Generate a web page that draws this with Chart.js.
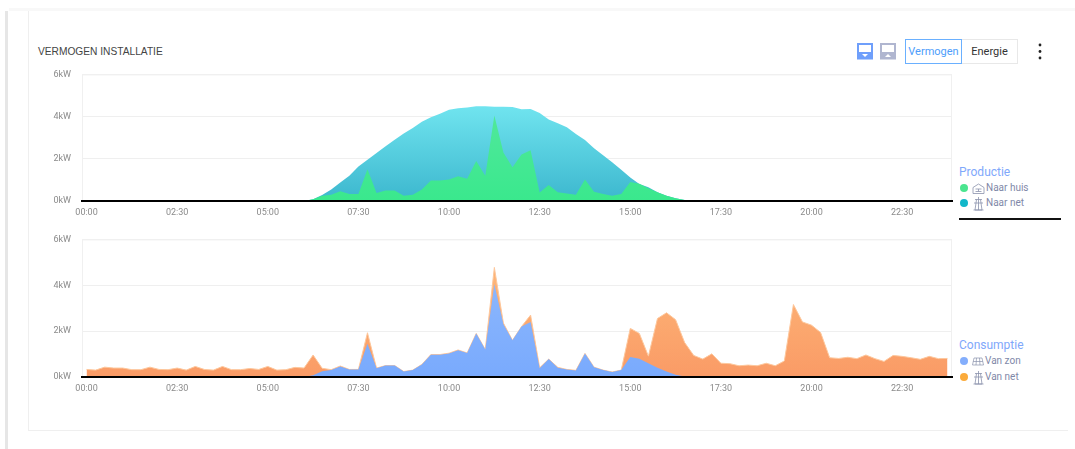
<!DOCTYPE html>
<html lang="nl"><head><meta charset="utf-8">
<title>Vermogen installatie</title>
<script src="https://cdn.jsdelivr.net/npm/chart.js@4"></script>
<style>
html,body{margin:0;padding:0;background:#fff;width:1075px;height:449px;overflow:hidden;font-family:Roboto,sans-serif}
.abs{position:absolute}
canvas{display:block}
.legend-title{font:12px Roboto,sans-serif;color:#7fa8fb}
.legend-row{font:10px Roboto,sans-serif;color:#7f88a8;white-space:nowrap;line-height:12px}
.dot{width:8px;height:8px;border-radius:50%}
.btn{box-sizing:border-box;font:11px Roboto,sans-serif;text-align:center;line-height:23px;height:25px}
</style></head><body>
<div class="abs" style="left:5px;top:11px;width:3px;height:438px;background:#e6e6e6"></div>
<div class="abs" style="left:9px;top:8px;width:1066px;height:3px;background:#f8f8f8"></div>
<div class="abs" style="left:28px;top:11px;width:1040px;height:420px;border:1px solid #efefef;border-top:none;border-right:none;box-sizing:border-box"></div>
<div class="abs" style="left:38px;top:46px;font:10.2px 'Liberation Sans',sans-serif;color:#444" id="title">VERMOGEN INSTALLATIE</div>

<svg class="abs" style="left:857px;top:43px" width="40" height="17" viewBox="0 0 40 17">
<rect x="0" y="0" width="16" height="16.5" fill="#6f9ffb"/><rect x="2" y="2" width="12" height="7" fill="#fff"/><path d="M5 11h6l-3 3z" fill="#fff"/>
<rect x="23" y="0" width="16" height="16.5" fill="#b0b6d0"/><rect x="25" y="2" width="12" height="7" fill="#fff"/><path d="M28 14h6l-3-3z" fill="#fff"/>
</svg>
<div class="abs btn" style="left:961px;top:39px;width:57px;border:1px solid #e8e8e8;color:#333">Energie</div>
<div class="abs btn" style="left:905px;top:39px;width:57px;border:1px solid #6ab0ff;color:#4d9dfb;background:#fff">Vermogen</div>
<svg class="abs" style="left:1037px;top:42px" width="6" height="20"><circle cx="3" cy="3" r="1.4" fill="#222"/><circle cx="3" cy="9.5" r="1.4" fill="#222"/><circle cx="3" cy="16" r="1.4" fill="#222"/></svg>

<div class="abs" style="left:30px;top:58px;width:925px;height:164px"><canvas id="prod" width="925" height="164"></canvas></div>
<div class="abs" style="left:30px;top:223px;width:925px;height:175px"><canvas id="cons" width="925" height="175"></canvas></div>

<div class="abs legend-title" style="left:959px;top:165px">Productie</div>
<div class="abs dot" style="left:960px;top:184px;background:#4be58f"></div>
<svg class="abs" style="left:972px;top:183px" width="13" height="11" fill="none" stroke="#8a92ac" stroke-width=".8"><path d="M1 10.500V4.500L6.500 1l5.500 3.500v6zM3.500 6h6M3.500 8.500h6M6.500 6V8.500"/></svg>
<div class="abs legend-row" style="left:986px;top:182px">Naar huis</div>
<div class="abs dot" style="left:960px;top:199px;background:#12b7c9"></div>
<svg class="abs" style="left:973px;top:196px" width="11" height="15" fill="none" stroke="#8a92ac" stroke-width=".8"><path d="M5.500 1v13M2 3.500h7M1 7h9M3.500 3.500L2 14h7L7.500 3.500M.5 14h10"/></svg>
<div class="abs legend-row" style="left:986px;top:197px">Naar net</div>
<div class="abs" style="left:959px;top:218px;width:102px;height:2px;background:#111"></div>

<div class="abs legend-title" style="left:959px;top:338px">Consumptie</div>
<div class="abs dot" style="left:960px;top:357px;background:#84aefc"></div>
<svg class="abs" style="left:972px;top:357px" width="12" height="9" fill="none" stroke="#8a92ac" stroke-width=".7"><path d="M2 1h8l1.500 7H.5zM1.200 4.500h9.600M4.500 1L4 8M7.500 1L8 8"/></svg>
<div class="abs legend-row" style="left:985px;top:355px">Van zon</div>
<div class="abs dot" style="left:960px;top:373px;background:#fbab3b"></div>
<svg class="abs" style="left:973px;top:370px" width="11" height="15" fill="none" stroke="#8a92ac" stroke-width=".8"><path d="M5.500 1v13M2 3.500h7M1 7h9M3.500 3.500L2 14h7L7.500 3.500M.5 14h10"/></svg>
<div class="abs legend-row" style="left:985px;top:371px">Van net</div>

<script>
const xTickLabels = ['00:00','02:30','05:00','07:30','10:00','12:30','15:00','17:30','20:00','22:30'];
const yTicks = [0,2,4,6];

const productieTotaal = [0,0,0,0,0,0,0,0,0,0,0,0,0,0,0,0,0,0,0,0,0,0,0,0,
 0,.08,.28,.55,.88,1.2,1.63,1.95,2.27,2.6,2.9,3.2,3.46,3.76,3.97,4.14,4.32,4.4,4.43,4.49,4.49,4.47,4.47,4.46,
 4.35,4.36,4.17,3.86,3.68,3.49,3.17,2.89,2.5,2.17,1.84,1.48,1.11,.81,.65,.41,.25,.13,.05,.01,
 0,0,0,0,0,0,0,0,0,0,0,0,0,0,0,0,0,0,0,0,0,0,0,0,0,0,0,0];
const naarHuis = [0,0,0,0,0,0,0,0,0,0,0,0,0,0,0,0,0,0,0,0,0,0,0,0,
 0,.08,.25,.3,.46,.33,.33,1.5,.38,.5,.5,.25,.3,.55,.97,.97,1.02,1.17,1.05,1.9,1.2,4.05,2.3,1.6,
 2.2,2.4,.4,.76,.41,.35,.3,1.02,.44,.33,.25,.33,.9,.82,.6,.41,.25,.13,.05,.01,
 0,0,0,0,0,0,0,0,0,0,0,0,0,0,0,0,0,0,0,0,0,0,0,0,0,0,0,0];
const consumptieTotaal = [.33,.3,.43,.39,.39,.32,.32,.43,.33,.32,.39,.3,.46,.33,.3,.46,.32,.32,.37,.33,.46,.3,.32,.42,
 .39,.96,.38,.32,.48,.33,.33,1.93,.39,.5,.5,.24,.3,.55,.98,.98,1.04,1.18,1.05,1.9,1.2,4.78,2.35,1.6,
 2.2,2.7,.4,.78,.42,.33,.29,1.03,.43,.3,.22,.3,2.12,1.9,.91,2.55,2.8,2.5,1.5,.94,
 .78,1.01,.6,.58,.49,.52,.49,.6,.49,.7,3.16,2.4,2.26,1.94,.84,.81,.86,.8,.96,.8,.68,.94,.9,.84,.77,.9,.8,.81];
const vanZon = [0,0,0,0,0,0,0,0,0,0,0,0,0,0,0,0,0,0,0,0,0,0,0,0,
 0,.08,.25,.3,.46,.33,.33,1.45,.38,.5,.5,.24,.3,.55,.97,.97,1.02,1.17,1.05,1.9,1.2,4.05,2.3,1.6,
 2.2,2.4,.38,.78,.4,.33,.28,1.03,.43,.3,.22,.3,.87,.8,.6,.4,.24,.1,.02,0,
 0,0,0,0,0,0,0,0,0,0,0,0,0,0,0,0,0,0,0,0,0,0,0,0,0,0,0,0];

const categories = [];
for (let h = 0; h < 24; h++) for (const m of ['00','15','30','45'])
  categories.push(String(h).padStart(2,'0') + ':' + m);

function gradient(series, top, bottom) {
  const peak = Math.max(...series);
  return ctx => {
    const c = ctx.chart;
    if (!c.chartArea) return bottom;
    const y = c.scales.y;
    const g = c.ctx.createLinearGradient(0, y.getPixelForValue(peak), 0, y.getPixelForValue(0));
    g.addColorStop(0, top); g.addColorStop(1, bottom);
    return g;
  };
}
const frame = {
  id: 'frame',
  beforeDatasetsDraw(c) {
    const a = c.chartArea, x = c.ctx;
    x.save(); x.strokeStyle = '#f0f0f0'; x.lineWidth = 1;
    x.strokeRect(a.left + .5, a.top + .5, a.width - 1, a.height);
    x.restore();
  }
};
function makeChart(id, back, front, topPad) {
  return new Chart(document.getElementById(id), {
    type: 'line',
    data: { labels: categories, datasets: [front, back] },
    options: {
      responsive: false, animation: false,
      layout: { padding: { top: topPad, right: 3, left: 0, bottom: 0 } },
      plugins: { legend: { display: false }, tooltip: { enabled: false } },
      elements: { point: { radius: 0 }, line: { tension: 0 } },
      scales: {
        x: {
          offset: true,
          grid: { display: false, drawTicks: false },
          border: { color: '#000', width: 2, z: 2 },
          afterFit: s => { s.height = 21; },
          ticks: {
            autoSkip: false, maxRotation: 0, padding: 6,
            color: '#8a8a8a', font: { family: 'Roboto', size: 9 },
            callback: (v, i) => i % 10 === 0 ? xTickLabels[i / 10] : null
          }
        },
        y: {
          min: yTicks[0], max: yTicks[yTicks.length - 1],
          afterFit: s => { s.width = 52; },
          afterBuildTicks: s => { s.ticks = yTicks.map(value => ({ value })); },
          grid: { color: '#efefef', lineWidth: 1, drawTicks: false },
          border: { display: false },
          ticks: {
            padding: 11, color: '#8a8a8a', font: { family: 'Roboto', size: 9 },
            callback: v => v + 'kW'
          }
        }
      }
    },
    plugins: [frame]
  });
}
makeChart('prod',
  { label: 'Naar net', data: productieTotaal, fill: 'origin', borderWidth: 0,
    backgroundColor: gradient(productieTotaal, '#70e4ef', '#3cb7ce') },
  { label: 'Naar huis', data: naarHuis, fill: 'origin', borderWidth: 0,
    backgroundColor: gradient(naarHuis, '#50e89b', '#3ae88d') }, 3);
makeChart('cons',
  { label: 'Van net', data: consumptieTotaal, fill: 'origin', borderWidth: 1, borderColor: '#fdc79c',
    backgroundColor: gradient(consumptieTotaal, '#fdb678', '#fa9b66') },
  { label: 'Van zon', data: vanZon, fill: 'origin', borderWidth: 0,
    backgroundColor: gradient(vanZon, '#8bb6fd', '#79aafd') }, 4);
</script>
</body></html>
